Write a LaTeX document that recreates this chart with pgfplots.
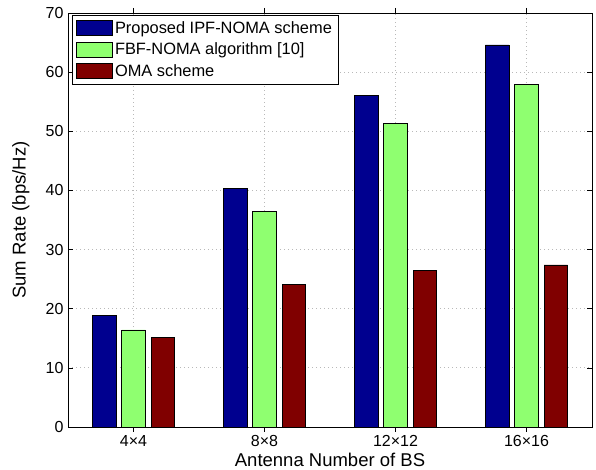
\documentclass[border=0pt]{standalone}
\usepackage{fontspec}
\setmainfont{Liberation Sans}
\usepackage{pgfplots}
\pgfplotsset{compat=1.18}
\definecolor{mblue}{RGB}{0,0,143}
\definecolor{mgreen}{RGB}{143,255,112}
\definecolor{mred}{RGB}{128,0,0}
\begin{document}
\begin{tikzpicture}
\begin{axis}[
  scale only axis,
  width=524pt, height=414pt,
  xmin=0.5, xmax=4.5, ymin=0, ymax=70,
  xtick={1,2,3,4},
  xticklabels={4×4,8×8,12×12,16×16},
  ytick={0,10,...,70},
  tick align=inside,
  major tick length=5pt,
  tick style={black, line width=0.6pt},
  axis line style={black, line width=0.8pt},
  grid=major,
  major grid style={gray!55, dash pattern=on 0.8pt off 3.2pt, line width=0.8pt},
  /pgf/number format/assume math mode=true,
  tick label style={font=\fontsize{16}{19}\selectfont},
  yticklabel style={xshift=-1pt},
  label style={font=\fontsize{18.5}{22}\selectfont},
  xlabel={Antenna Number of BS},
  ylabel={Sum Rate (bps/Hz)},
  xlabel style={at={(axis description cs:0.5,0)}, anchor=center, yshift=-33pt},
  ylabel style={at={(axis description cs:-0.0898,0.5)}, anchor=center, rotate=0},
  ybar,
  bar width=23.5pt,
  legend style={at={(axis description cs:0,1)}, anchor=north west, xshift=4pt, yshift=-2pt,
    draw=black, line width=0.8pt, fill=white,
    font=\fontsize{16.4}{19}\selectfont,
    row sep=4.2pt, inner xsep=4pt, inner ysep=4pt,
    cells={anchor=west}},
  legend image code/.code={\draw[#1, line width=0.6pt] (0pt,-7.5pt) rectangle (36pt,7.5pt);},
  legend cell align=left,
]
\addplot[fill=mblue, draw=black, line width=0.8pt, bar shift=-29.3pt] coordinates {(1,18.9) (2,40.4) (3,56.1) (4,64.6)};
\addplot[fill=mgreen, draw=black, line width=0.8pt, bar shift=0pt] coordinates {(1,16.4) (2,36.4) (3,51.3) (4,57.9)};
\addplot[fill=mred, draw=black, line width=0.8pt, bar shift=29.3pt] coordinates {(1,15.2) (2,24.1) (3,26.4) (4,27.4)};
\legend{Proposed IPF-NOMA scheme\hspace{10pt}, FBF-NOMA algorithm [10], OMA scheme}
\end{axis}
\pgfresetboundingbox
\path ([shift={(-68pt,-43pt)}]current axis.south west) rectangle ([shift={(4pt,13pt)}]current axis.north east);
\end{tikzpicture}
\end{document}
